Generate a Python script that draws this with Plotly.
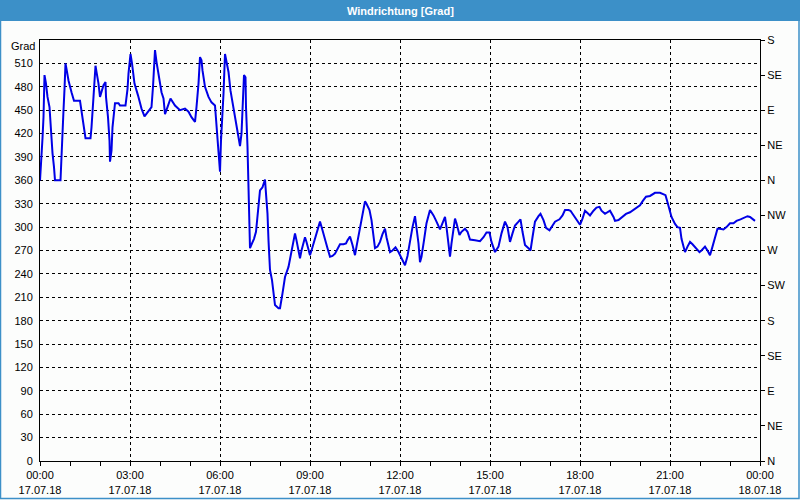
import plotly.graph_objects as go
import pandas as pd

# Time of each reading (minutes after 17.07.18 00:00) and wind direction [Grad]
minutes = [0, 3, 5, 7, 9, 12, 15, 19, 21, 25, 28, 30, 41, 44, 47, 49, 51, 53, 57, 63,
           68, 80, 83, 87, 91, 101, 103, 107, 111, 113, 117, 120, 123, 127, 131, 132, 136, 139, 140, 143,
           145, 150, 157, 160, 171, 175, 177, 181, 184, 189, 196, 203, 209, 216, 223, 226, 230, 233, 239, 243,
           247, 250, 255, 261, 270, 280, 290, 297, 303, 310, 313, 317, 320, 323, 325, 330, 337, 343, 350, 353,
           357, 360, 362, 364, 367, 370, 373, 377, 381, 387, 392, 397, 400, 403, 405, 408, 411, 412, 415, 417,
           419, 420, 424, 428, 432, 435, 440, 445, 450, 452, 455, 457, 460, 464, 467, 470, 477, 480, 485, 490,
           497, 501, 505, 510, 513, 517, 520, 523, 527, 530, 533, 537, 540, 543, 547, 552, 560, 565, 570, 575,
           580, 585, 590, 595, 600, 607, 612, 615, 620, 625, 630, 633, 639, 643, 647, 650, 653, 659, 663, 667,
           670, 675, 680, 685, 690, 693, 697, 700, 705, 711, 717, 723, 730, 735, 740, 745, 750, 753, 757, 760,
           763, 768, 773, 780, 787, 793, 800, 805, 810, 813, 817, 820, 823, 827, 830, 833, 839, 843, 850, 855,
           860, 870, 880, 887, 893, 899, 903, 910, 917, 923, 930, 935, 940, 945, 950, 957, 961, 965, 970, 977,
           981, 985, 990, 997, 1001, 1007, 1012, 1019, 1023, 1030, 1039, 1045, 1050, 1057, 1061, 1067, 1073, 1080, 1085, 1090,
           1095, 1100, 1107, 1113, 1119, 1123, 1130, 1135, 1140, 1147, 1150, 1157, 1163, 1172, 1180, 1187, 1193, 1200, 1205, 1212,
           1220, 1230, 1240, 1247, 1251, 1255, 1259, 1263, 1270, 1275, 1280, 1283, 1287, 1290, 1295, 1300, 1305, 1312, 1319, 1323,
           1330, 1335, 1340, 1345, 1350, 1355, 1360, 1367, 1373, 1380, 1387, 1393, 1401, 1408, 1415, 1420, 1425, 1430]

direction = [360, 388, 414, 441, 495, 484, 467, 454, 428, 395, 377, 360, 360, 416, 450, 477, 510, 503, 488, 473,
             462, 462, 450, 430, 414, 414, 428, 467, 507, 499, 484, 467, 475, 482, 486, 467, 441, 411, 384, 398,
             428, 459, 459, 456, 456, 477, 497, 522, 510, 484, 469, 452, 442, 448, 454, 480, 527, 512, 488, 473,
             465, 445, 454, 465, 456, 450, 452, 448, 441, 435, 454, 484, 518, 514, 501, 480, 467, 460, 456, 428,
             398, 371, 411, 433, 471, 522, 512, 499, 475, 454, 437, 416, 404, 420, 454, 495, 492, 454, 403, 360,
             317, 273, 279, 285, 294, 313, 347, 351, 361, 343, 317, 283, 245, 232, 215, 200, 196, 196, 215, 236,
             249, 262, 279, 292, 283, 268, 260, 270, 279, 287, 281, 273, 264, 270, 279, 292, 307, 296, 283, 273,
             262, 263, 266, 273, 278, 278, 279, 283, 288, 277, 264, 275, 296, 313, 326, 333, 330, 322, 309, 292,
             273, 275, 281, 291, 298, 287, 277, 268, 270, 274, 268, 260, 251, 263, 283, 300, 314, 300, 279, 255,
             262, 283, 305, 322, 315, 307, 297, 305, 313, 300, 279, 262, 279, 300, 311, 305, 290, 294, 298, 294,
             284, 283, 282, 287, 293, 293, 281, 268, 275, 292, 307, 300, 281, 292, 302, 307, 310, 294, 277, 273,
             270, 287, 307, 314, 317, 309, 299, 296, 300, 307, 310, 315, 322, 322, 321, 315, 310, 303, 311, 321,
             318, 315, 321, 325, 326, 321, 317, 319, 321, 313, 308, 309, 312, 317, 319, 322, 324, 328, 333, 339,
             340, 344, 344, 342, 341, 332, 322, 313, 304, 300, 299, 285, 275, 268, 275, 281, 278, 273, 268, 270,
             275, 270, 264, 275, 287, 298, 298, 297, 300, 305, 305, 308, 310, 312, 314, 313, 311, 308]

grad_ticks = list(range(0, 511, 30))
compass_vals = list(range(0, 541, 45))
compass_labels = ["N", "NE", "E", "SE", "S", "SW", "W", "NW", "N", "NE", "E", "SE", "S"]

title_text = "Windrichtung [Grad]"
unit_label = "Grad"

times = pd.Timestamp("2018-07-17 00:00") + pd.to_timedelta(minutes, unit="min")

FONT = "Liberation Sans, Arial, sans-serif"
BLUE_BAR = "#3c90c8"
BG = "#fcfdfc"

# plot area in pixels: x 40..760, y 40..461
def px_x(X):
    return (X - 40) / 720.0

def px_y(Y):
    return 1 - (Y - 40) / 421.0

fig = go.Figure()
fig.add_trace(go.Scatter(x=times, y=direction, mode="lines",
                         line=dict(color="#0000e6", width=2), hoverinfo="x+y",
                         showlegend=False))
fig.add_trace(go.Scatter(x=times, y=direction, yaxis="y2", mode="lines",
                         line=dict(width=0, color="rgba(0,0,0,0)"), opacity=0,
                         hoverinfo="skip", showlegend=False))

grid = dict(showgrid=True, gridcolor="black", gridwidth=1, griddash="3px,3px")

fig.update_layout(
    width=800, height=500, autosize=False,
    margin=dict(l=40, r=40, t=40, b=39, pad=0, autoexpand=False),
    paper_bgcolor=BG, plot_bgcolor=BG,
    font=dict(family=FONT, size=11, color="black"),
    xaxis=dict(type="date", range=["2018-07-17 00:00", "2018-07-18 00:00"],
               tick0="2018-07-17 00:00", dtick=3 * 3600 * 1000,
               tickformat="%H:%M<br>%d.%m.%y", automargin=False,
               ticks="outside", ticklen=4, tickcolor="black", tickwidth=1,
               minor=dict(dtick=3600 * 1000, ticks="outside", ticklen=4,
                          tickcolor="black", showgrid=False),
               showline=True, linecolor="black", linewidth=1, mirror=True,
               zeroline=False, tickfont=dict(size=11, family=FONT, color="black"),
               **grid),
    yaxis=dict(range=[0, 540], tickvals=grad_ticks, ticks="", showline=True,
               linecolor="black", linewidth=1, mirror=True, zeroline=False,
               ticklabelstandoff=4, automargin=False,
               tickfont=dict(size=11, family=FONT, color="black"), **grid),
    yaxis2=dict(range=[0, 540], overlaying="y", side="right",
                tickvals=compass_vals, ticktext=compass_labels, automargin=False,
                ticks="outside", ticklen=4, tickcolor="black",
                showgrid=False, zeroline=False, showline=True, linecolor="black",
                tickfont=dict(size=11, family=FONT, color="black")),
    shapes=[
        dict(type="rect", xref="paper", yref="paper",
             x0=px_x(0), x1=px_x(800), y0=px_y(21), y1=px_y(0),
             fillcolor=BLUE_BAR, line=dict(width=0), layer="below"),
        dict(type="rect", xref="paper", yref="paper",
             x0=px_x(0.5), x1=px_x(799), y0=px_y(498.5), y1=px_y(0),
             fillcolor="rgba(0,0,0,0)", line=dict(width=1.5, color=BLUE_BAR)),
    ],
    annotations=[
        dict(text="<b>" + title_text + "</b>", xref="paper", yref="paper",
             x=px_x(400), y=px_y(10.5), xanchor="center", yanchor="middle",
             showarrow=False, font=dict(size=11, color="white", family=FONT)),
        dict(text=unit_label, xref="paper", yref="paper",
             x=px_x(37), y=px_y(46), xanchor="right", yanchor="middle",
             showarrow=False, font=dict(size=11, color="black", family=FONT)),
    ],
)

fig.write_html("out.html")
